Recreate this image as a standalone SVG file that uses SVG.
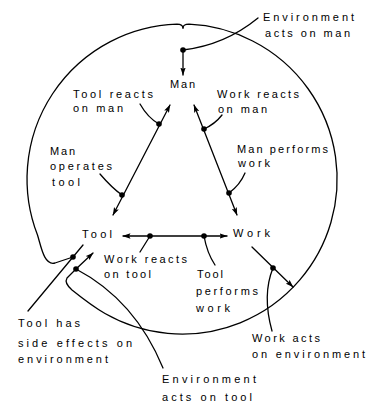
<svg xmlns="http://www.w3.org/2000/svg" width="374" height="403" viewBox="0 0 374 403">
<style>
  .ln{fill:none;stroke:#000;stroke-width:1.3;stroke-linecap:round;stroke-linejoin:round}
  .ar{marker-end:url(#ah)}
  .ar2{marker-start:url(#ah);marker-end:url(#ah)}
  .dot{fill:#000}
  text{font-family:"Liberation Sans",Arial,sans-serif;font-size:11px;fill:#000}
</style>
<defs>
  <marker id="ah" viewBox="0 0 8 6" refX="7.5" refY="3" markerWidth="8" markerHeight="6" orient="auto-start-reverse" markerUnits="userSpaceOnUse">
    <path d="M0,0.3 L8,3 L0,5.7 L1.5,3 z" fill="#000"/>
  </marker>
</defs>
<rect width="374" height="403" fill="#fff"/>

<g id="environment-boundary">
  <path class="ln" d="M183,28 Q183,24.3 177,24.1 A155,155 0 0 0 37.5,235 C41,246 44,266 55,263 L73,257"/>
  <path class="ln" d="M76,269 L67,278 Q64,283 72,290 C82,298 98,309.5 105,313.5 A155,155 0 1 0 189,24.2 Q183,24.3 183,28"/>
</g>

<g id="connectors">
  <path class="ln ar" d="M183,50 L183,75"/>
  <path class="ln ar2" d="M113,215 L170,105"/>
  <path class="ln ar2" d="M194,105 L237,215"/>
  <path class="ln ar2" d="M123,236 L227,236"/>
  <path class="ln ar" d="M76,269 L93,253"/>
  <path class="ln ar" d="M252,247 L293,287"/>
  <path class="ln" d="M83,245 L28,311"/>
  <path class="ln" d="M183,50 Q225,45 258,18"/>
  <path class="ln" d="M140,104 Q148,118 159,124"/>
  <path class="ln" d="M100,174 Q112,188 122,195"/>
  <path class="ln" d="M204,129 Q215,124 222,115"/>
  <path class="ln" d="M229,193 Q240,185 245,173"/>
  <path class="ln" d="M150,236 L140,252"/>
  <path class="ln" d="M204,236 Q207,253 215,265"/>
  <path class="ln" d="M273,268 Q262,295 272,331"/>
  <path class="ln" d="M76,269 Q135,300 163,368"/>
  <g class="dot">
    <circle cx="183" cy="50" r="2.8"/>
    <circle cx="159" cy="124" r="2.8"/>
    <circle cx="122" cy="195" r="2.8"/>
    <circle cx="204" cy="129" r="2.8"/>
    <circle cx="229" cy="193" r="2.8"/>
    <circle cx="150" cy="236" r="2.8"/>
    <circle cx="204" cy="236" r="2.8"/>
    <circle cx="73" cy="257" r="2.8"/>
    <circle cx="76" cy="269" r="2.8"/>
    <circle cx="273" cy="268" r="2.8"/>
  </g>
</g>

<g id="node-man"><text x="170" y="88" textLength="25" lengthAdjust="spacing">Man</text></g>
<g id="node-tool"><text x="82" y="238" textLength="30" lengthAdjust="spacing">Tool</text></g>
<g id="node-work"><text x="233" y="237" textLength="37" lengthAdjust="spacing">Work</text></g>

<g id="label-env-man">
  <text x="263" y="21" textLength="91" lengthAdjust="spacing">Environment</text>
  <text x="265" y="37" textLength="85" lengthAdjust="spacing">acts on man</text>
</g>
<g id="label-tool-reacts">
  <text x="73" y="98" textLength="80" lengthAdjust="spacing">Tool reacts</text>
  <text x="73" y="112" textLength="50" lengthAdjust="spacing">on man</text>
</g>
<g id="label-work-reacts-man">
  <text x="217" y="98" textLength="82" lengthAdjust="spacing">Work reacts</text>
  <text x="218" y="113" textLength="49" lengthAdjust="spacing">on man</text>
</g>
<g id="label-man-operates">
  <text x="50" y="155" textLength="25" lengthAdjust="spacing">Man</text>
  <text x="50" y="170" textLength="62" lengthAdjust="spacing">operates</text>
  <text x="52" y="186" textLength="28" lengthAdjust="spacing">tool</text>
</g>
<g id="label-man-performs">
  <text x="237" y="153" textLength="91" lengthAdjust="spacing">Man performs</text>
  <text x="238" y="167" textLength="32" lengthAdjust="spacing">work</text>
</g>
<g id="label-work-reacts-tool">
  <text x="104" y="263" textLength="83" lengthAdjust="spacing">Work reacts</text>
  <text x="104" y="278" textLength="47" lengthAdjust="spacing">on tool</text>
</g>
<g id="label-tool-performs">
  <text x="197" y="278" textLength="26" lengthAdjust="spacing">Tool</text>
  <text x="196" y="295" textLength="62" lengthAdjust="spacing">performs</text>
  <text x="196" y="312" textLength="34" lengthAdjust="spacing">work</text>
</g>
<g id="label-work-env">
  <text x="252" y="342" textLength="68" lengthAdjust="spacing">Work acts</text>
  <text x="252" y="358" textLength="113" lengthAdjust="spacing">on environment</text>
</g>
<g id="label-tool-side">
  <text x="18" y="327" textLength="62" lengthAdjust="spacing">Tool has</text>
  <text x="18" y="347" textLength="114" lengthAdjust="spacing">side effects on</text>
  <text x="18" y="363" textLength="90" lengthAdjust="spacing">environment</text>
</g>
<g id="label-env-tool">
  <text x="162" y="383" textLength="94" lengthAdjust="spacing">Environment</text>
  <text x="162" y="401" textLength="90" lengthAdjust="spacing">acts on tool</text>
</g>
</svg>
